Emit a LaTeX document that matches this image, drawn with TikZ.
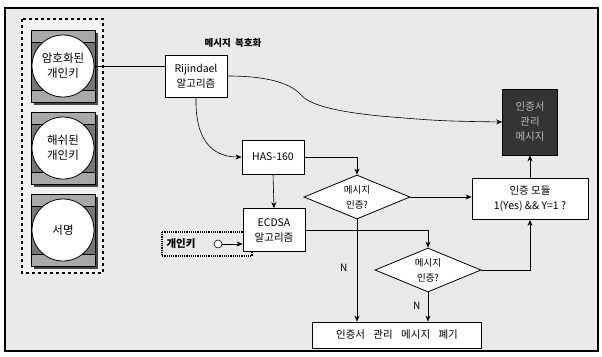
\documentclass[tikz,border=0pt]{standalone}
\usepackage{fontspec}
\setmainfont{Noto Sans CJK KR}
\usetikzlibrary{arrows.meta,shapes.geometric}
\definecolor{bggray}   {RGB}{233,233,233}
\definecolor{grpgray}  {RGB}{242,242,242}
\definecolor{tilegray} {RGB}{118,118,118}
\definecolor{bandgray} {RGB}{168,168,168}
\definecolor{shadegray}{RGB}{70,70,70}
\definecolor{certdark} {RGB}{52,52,52}
\definecolor{certtext} {RGB}{185,185,185}
\tikzset{
  procbox/.style={draw, thick, fill=white, align=center,
                  font=\fontsize{10.5}{15}\selectfont, inner sep=2pt,
                  minimum width=#1},
  procbox/.default=62pt,
  certbox/.style={procbox=55pt, fill=certdark, text=certtext,
                  minimum height=66pt},
  decbox/.style ={draw, thick, fill=white, diamond, aspect=2.4,
                  inner sep=0pt, minimum width=106pt, minimum height=44pt,
                  align=center, font=\fontsize{9.5}{15}\selectfont},
  keydisc/.style={draw, thick, circle, fill=white, minimum size=62pt,
                  inner sep=0pt, align=center,
                  font=\fontsize{11.5}{15}\selectfont},
  arr/.style    ={-{Stealth[length=6pt,width=5pt]}, semithick},
  lbl/.style    ={font=\fontsize{10}{12}\selectfont},
}
\begin{document}
\begin{tikzpicture}[x=1pt,y=-1pt]
  \useasboundingbox (0,0) rectangle (602,356);
  \filldraw[fill=bggray, draw=black, very thick] (5,8) rectangle (598,351);
  %% key group on the left
  \filldraw[fill=grpgray, draw=black, very thick, dashed] (22,19) rectangle (103,273);
  \foreach \cy in {66,148,230} {
    \fill[shadegray] (34,\cy-33) rectangle (98,\cy+39);
    \filldraw[fill=tilegray, draw=black, semithick] (31,\cy-36) rectangle (95,\cy+36);
    \filldraw[fill=bandgray, draw=black, semithick] (31,\cy-36) rectangle (95,\cy-24);
    \filldraw[fill=bandgray, draw=black, semithick] (31,\cy+24) rectangle (95,\cy+36);
  }
  \node[keydisc] (enckey)  at (63,66)  {암호화된\\개인키};
  \node[keydisc] (hashkey) at (63,148) {해쉬된\\개인키};
  \node[keydisc] (sign)    at (63,230) {서명};
  %% private key input
  \draw[very thick, densely dotted] (162,232) rectangle (252,256);
  \node[font=\bfseries\fontsize{10.5}{12}\selectfont] (pkey) at (181,244) {개인키};
  \node[draw, semithick, circle, fill=white, minimum size=8pt, inner sep=0pt] (pdot) at (218,244) {};
  %% processing chain
  \node[font=\bfseries\fontsize{9.5}{12}\selectfont] (title) at (233,43) {메시지\ \ 복호화};
  \node[procbox, minimum height=42pt] (rij) at (196,76) {Rijindael\\알고리즘};
  \node[procbox, minimum height=34pt] (has) at (273,157) {HAS-160};
  \node[procbox, minimum height=43pt] (ecdsa) at (274,230) {ECDSA\\알고리즘};
  \node[decbox] (chk1) at (357,197) {메시지\\인증?};
  \node[decbox] (chk2) at (428,270) {메시지\\인증?};
  \node[procbox=116pt, minimum height=41pt] (auth) at (530,199) {인증 모듈\\1(Yes) \&\& Y=1 ?};
  \node[certbox] (cert) at (530,122) {인증서\\관리\\메시지};
  \node[procbox=169pt, minimum height=26pt] (drop) at (397,335)
       {인증서\hspace{0.8em}관리\hspace{0.8em}메시지\hspace{0.8em}폐기};
  %% connectors
  \draw[semithick] (enckey.east) -- (enckey.east -| rij.west);
  \draw[arr] (rij.east) .. controls (270,76) and (292,84) .. (302,96)
             .. controls (312,106) and (340,112) .. (380,116)
             .. controls (440,121) .. (cert.west);
  \draw[arr] (rij.south) .. controls (195,140) and (212,157) .. (has.west);
  \draw[arr] (has.east) -| (chk1.north);
  \draw[arr] (has.south) -- (ecdsa.north);
  \draw[arr] (ecdsa.east) -| (chk2.north);
  \draw[arr] (pdot.east) -- (pdot -| ecdsa.west);
  \draw[arr] (chk1.south) -- (chk1.south |- drop.north) node[lbl, pos=0.47, left=6pt] {N};
  \draw[arr] (chk2.south) -- (chk2.south |- drop.north) node[lbl, pos=0.45, left=4pt] {N};
  \draw[arr] (chk1.east) -- (chk1.east -| auth.west);
  \draw[arr] (chk2.east) -| (auth.south);
  \draw[arr] (auth.north) -- (cert.south);
\end{tikzpicture}
\end{document}
